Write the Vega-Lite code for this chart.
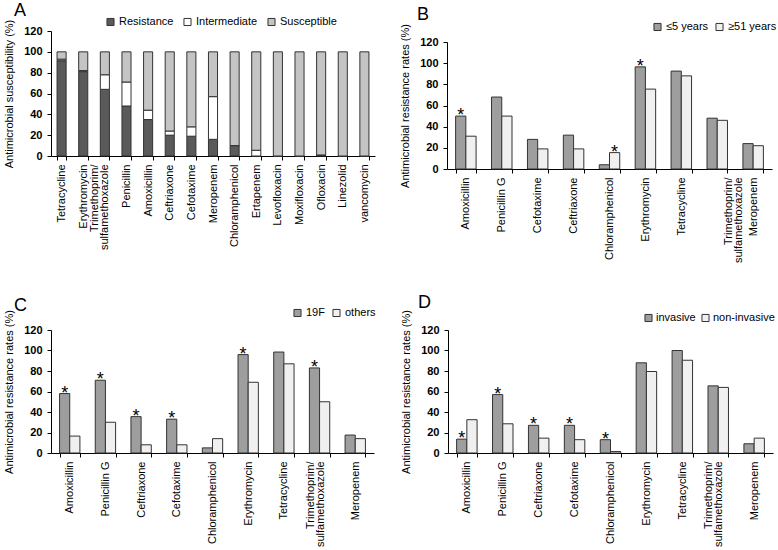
{
  "$schema": "https://vega.github.io/schema/vega-lite/v6.json",
  "padding": {"left": 3, "top": 2, "right": 0, "bottom": 0},
  "background": "#ffffff",
  "spacing": 30,
  "resolve": {"scale": {"color": "independent", "xOffset": "independent", "x": "independent", "y": "independent"}, "legend": {"color": "independent"}},
  "config": {
    "font": "Liberation Sans",
    "view": {"stroke": null},
    "axis": {"labelFont": "Liberation Sans", "labelFontSize": 11, "labelColor": "#000000", "domainColor": "#000000", "tickColor": "#000000", "titleColor": "#000000", "titleFont": "Liberation Sans", "titleFontSize": 11, "titleFontWeight": "normal", "grid": false, "tickSize": 4},
    "axisY": {"labelFontWeight": "bold"},
    "legend": {"labelFont": "Liberation Sans", "labelFontSize": 11, "labelColor": "#000000", "symbolType": "square", "symbolSize": 50, "symbolStrokeColor": "#333333", "symbolStrokeWidth": 1, "direction": "horizontal", "orient": "none", "columnPadding": 5, "labelOffset": 3},
    "title": {"font": "Liberation Sans", "fontSize": 18, "fontWeight": "normal", "color": "#000000", "anchor": "start", "frame": "group"}
  },
  "vconcat": [
    {
      "spacing": 24,
      "resolve": {"scale": {"color": "independent", "xOffset": "independent", "x": "independent", "y": "independent"}, "legend": {"color": "independent"}},
      "hconcat": [
        {
          "title": {"text": "A", "dx": -37, "offset": -4},
          "width": 324,
          "height": 125,
          "data": {"values": [
            {"drug": "Tetracycline", "cat": "Resistance", "o": 1, "v": 91.5},
            {"drug": "Tetracycline", "cat": "Intermediate", "o": 2, "v": 1.5},
            {"drug": "Tetracycline", "cat": "Susceptible", "o": 3, "v": 7},
            {"drug": "Erythromycin", "cat": "Resistance", "o": 1, "v": 81},
            {"drug": "Erythromycin", "cat": "Intermediate", "o": 2, "v": 1},
            {"drug": "Erythromycin", "cat": "Susceptible", "o": 3, "v": 18},
            {"drug": "Trimethoprim/sulfamethoxazole", "cat": "Resistance", "o": 1, "v": 64},
            {"drug": "Trimethoprim/sulfamethoxazole", "cat": "Intermediate", "o": 2, "v": 14},
            {"drug": "Trimethoprim/sulfamethoxazole", "cat": "Susceptible", "o": 3, "v": 22},
            {"drug": "Penicillin", "cat": "Resistance", "o": 1, "v": 48},
            {"drug": "Penicillin", "cat": "Intermediate", "o": 2, "v": 23},
            {"drug": "Penicillin", "cat": "Susceptible", "o": 3, "v": 29},
            {"drug": "Amoxicillin", "cat": "Resistance", "o": 1, "v": 35},
            {"drug": "Amoxicillin", "cat": "Intermediate", "o": 2, "v": 9},
            {"drug": "Amoxicillin", "cat": "Susceptible", "o": 3, "v": 56},
            {"drug": "Ceftriaxone", "cat": "Resistance", "o": 1, "v": 20},
            {"drug": "Ceftriaxone", "cat": "Intermediate", "o": 2, "v": 4},
            {"drug": "Ceftriaxone", "cat": "Susceptible", "o": 3, "v": 76},
            {"drug": "Cefotaxime", "cat": "Resistance", "o": 1, "v": 19},
            {"drug": "Cefotaxime", "cat": "Intermediate", "o": 2, "v": 9},
            {"drug": "Cefotaxime", "cat": "Susceptible", "o": 3, "v": 72},
            {"drug": "Meropenem", "cat": "Resistance", "o": 1, "v": 16},
            {"drug": "Meropenem", "cat": "Intermediate", "o": 2, "v": 41},
            {"drug": "Meropenem", "cat": "Susceptible", "o": 3, "v": 43},
            {"drug": "Chloramphenicol", "cat": "Resistance", "o": 1, "v": 10},
            {"drug": "Chloramphenicol", "cat": "Intermediate", "o": 2, "v": 0},
            {"drug": "Chloramphenicol", "cat": "Susceptible", "o": 3, "v": 90},
            {"drug": "Ertapenem", "cat": "Resistance", "o": 1, "v": 0},
            {"drug": "Ertapenem", "cat": "Intermediate", "o": 2, "v": 5.5},
            {"drug": "Ertapenem", "cat": "Susceptible", "o": 3, "v": 94.5},
            {"drug": "Levofloxacin", "cat": "Resistance", "o": 1, "v": 0},
            {"drug": "Levofloxacin", "cat": "Intermediate", "o": 2, "v": 0},
            {"drug": "Levofloxacin", "cat": "Susceptible", "o": 3, "v": 100},
            {"drug": "Moxifloxacin", "cat": "Resistance", "o": 1, "v": 0},
            {"drug": "Moxifloxacin", "cat": "Intermediate", "o": 2, "v": 0},
            {"drug": "Moxifloxacin", "cat": "Susceptible", "o": 3, "v": 100},
            {"drug": "Ofloxacin", "cat": "Resistance", "o": 1, "v": 1},
            {"drug": "Ofloxacin", "cat": "Intermediate", "o": 2, "v": 0},
            {"drug": "Ofloxacin", "cat": "Susceptible", "o": 3, "v": 99},
            {"drug": "Linezolid", "cat": "Resistance", "o": 1, "v": 0},
            {"drug": "Linezolid", "cat": "Intermediate", "o": 2, "v": 0},
            {"drug": "Linezolid", "cat": "Susceptible", "o": 3, "v": 100},
            {"drug": "vancomycin", "cat": "Resistance", "o": 1, "v": 0},
            {"drug": "vancomycin", "cat": "Intermediate", "o": 2, "v": 0},
            {"drug": "vancomycin", "cat": "Susceptible", "o": 3, "v": 100}
          ]},
          "mark": {"type": "bar", "stroke": "#333333", "strokeWidth": 1},
          "encoding": {
            "x": {"field": "drug", "type": "nominal", "sort": null, "scale": {"paddingInner": 0.58, "paddingOuter": 0.28},
                  "axis": {"title": null, "labelAngle": -90, "tickBand": "extent", "labelPadding": 4, "labelLineHeight": 10,
                           "labelOffset": {"condition": {"test": "datum.value == 'Trimethoprim/sulfamethoxazole'", "value": -10}, "value": 0},
                           "labelExpr": "datum.value == 'Trimethoprim/sulfamethoxazole' ? ['Trimethoprim/', 'sulfamethoxazole'] : datum.value"}},
            "y": {"field": "v", "type": "quantitative", "stack": "zero", "scale": {"domain": [0, 120]},
                  "axis": {"title": "Antimicrobial susceptibility (%)", "values": [0, 20, 40, 60, 80, 100, 120], "labelPadding": 5, "titlePadding": 9}},
            "color": {"field": "cat", "type": "nominal", "sort": null,
                      "scale": {"domain": ["Resistance", "Intermediate", "Susceptible"], "range": ["#5a5a5a", "#ffffff", "#c4c4c4"]},
                      "legend": {"title": null, "legendX": 54, "legendY": -15, "columnPadding": 7}},
            "order": {"field": "o", "type": "quantitative", "sort": "ascending"}
          }
        },
        {
          "title": {"text": "B", "dx": -30, "offset": -3},
          "width": 325,
          "height": 138,
          "data": {"values": [
            {"drug": "Amoxicillin", "g": "≤5 years", "v": 50, "s": "*"},
            {"drug": "Amoxicillin", "g": "≥51 years", "v": 31, "s": ""},
            {"drug": "Penicillin G", "g": "≤5 years", "v": 68, "s": ""},
            {"drug": "Penicillin G", "g": "≥51 years", "v": 50, "s": ""},
            {"drug": "Cefotaxime", "g": "≤5 years", "v": 28, "s": ""},
            {"drug": "Cefotaxime", "g": "≥51 years", "v": 19, "s": ""},
            {"drug": "Ceftriaxone", "g": "≤5 years", "v": 32, "s": ""},
            {"drug": "Ceftriaxone", "g": "≥51 years", "v": 19, "s": ""},
            {"drug": "Chloramphenicol", "g": "≤5 years", "v": 4, "s": ""},
            {"drug": "Chloramphenicol", "g": "≥51 years", "v": 15.5, "s": "*"},
            {"drug": "Erythromycin", "g": "≤5 years", "v": 96.5, "s": "*"},
            {"drug": "Erythromycin", "g": "≥51 years", "v": 75.5, "s": ""},
            {"drug": "Tetracycline", "g": "≤5 years", "v": 92.5, "s": ""},
            {"drug": "Tetracycline", "g": "≥51 years", "v": 88, "s": ""},
            {"drug": "Trimethoprim/sulfamethoxazole", "g": "≤5 years", "v": 48, "s": ""},
            {"drug": "Trimethoprim/sulfamethoxazole", "g": "≥51 years", "v": 46, "s": ""},
            {"drug": "Meropenem", "g": "≤5 years", "v": 24, "s": ""},
            {"drug": "Meropenem", "g": "≥51 years", "v": 22, "s": ""}
          ]},
          "encoding": {
            "x": {"field": "drug", "type": "nominal", "sort": null, "scale": {"paddingInner": 0.43, "paddingOuter": 0.24},
                  "axis": {"title": null, "labelAngle": -90, "tickBand": "extent", "labelPadding": 4, "labelLineHeight": 10,
                           "labelOffset": {"condition": {"test": "datum.value == 'Trimethoprim/sulfamethoxazole'", "value": 11}, "value": 0},
                           "labelExpr": "datum.value == 'Trimethoprim/sulfamethoxazole' ? ['Trimethoprim/', 'sulfamethoxazole'] : datum.value"}},
            "xOffset": {"field": "g", "type": "nominal", "sort": null},
            "y": {"field": "v", "type": "quantitative", "scale": {"domain": [0, 120], "range": [138, 11]},
                  "axis": {"title": "Antimicrobial  resistance  rates (%)", "values": [0, 20, 40, 60, 80, 100, 120], "labelPadding": 5, "titlePadding": 9}}
          },
          "layer": [
            {"mark": {"type": "bar", "stroke": "#333333", "strokeWidth": 1},
             "encoding": {"color": {"field": "g", "type": "nominal", "sort": null, "scale": {"domain": ["≤5 years", "≥51 years"], "range": ["#9e9e9e", "#f0f0f0"]},
                                    "legend": {"title": null, "legendX": 205, "legendY": -10, "columnPadding": 4}}}},
            {"mark": {"type": "text", "fontSize": 18, "baseline": "alphabetic", "dy": 5, "color": "#000000"},
             "encoding": {"text": {"field": "s"}}}
          ]
        }
      ]
    },
    {
      "spacing": 24,
      "resolve": {"scale": {"color": "independent", "xOffset": "independent", "x": "independent", "y": "independent"}, "legend": {"color": "independent"}},
      "hconcat": [
        {
          "title": {"text": "C", "dx": -37, "offset": -8},
          "width": 323,
          "height": 123,
          "data": {"values": [
            {"drug": "Amoxicillin", "g": "19F", "v": 58, "s": "*"},
            {"drug": "Amoxicillin", "g": "others", "v": 16.5, "s": ""},
            {"drug": "Penicillin G", "g": "19F", "v": 71, "s": "*"},
            {"drug": "Penicillin G", "g": "others", "v": 30, "s": ""},
            {"drug": "Ceftriaxone", "g": "19F", "v": 35.5, "s": "*"},
            {"drug": "Ceftriaxone", "g": "others", "v": 8, "s": ""},
            {"drug": "Cefotaxime", "g": "19F", "v": 33, "s": "*"},
            {"drug": "Cefotaxime", "g": "others", "v": 8, "s": ""},
            {"drug": "Chloramphenicol", "g": "19F", "v": 5, "s": ""},
            {"drug": "Chloramphenicol", "g": "others", "v": 14, "s": ""},
            {"drug": "Erythromycin", "g": "19F", "v": 96, "s": "*"},
            {"drug": "Erythromycin", "g": "others", "v": 69, "s": ""},
            {"drug": "Tetracycline", "g": "19F", "v": 98.5, "s": ""},
            {"drug": "Tetracycline", "g": "others", "v": 87, "s": ""},
            {"drug": "Trimethoprim/sulfamethoxazole", "g": "19F", "v": 83, "s": "*"},
            {"drug": "Trimethoprim/sulfamethoxazole", "g": "others", "v": 50, "s": ""},
            {"drug": "Meropenem", "g": "19F", "v": 17.5, "s": ""},
            {"drug": "Meropenem", "g": "others", "v": 14, "s": ""}
          ]},
          "encoding": {
            "x": {"field": "drug", "type": "nominal", "sort": null, "scale": {"paddingInner": 0.43, "paddingOuter": 0.24},
                  "axis": {"title": null, "labelAngle": -90, "tickBand": "extent", "labelPadding": 4, "labelLineHeight": 10,
                           "labelOffset": {"condition": {"test": "datum.value == 'Trimethoprim/sulfamethoxazole'", "value": -9}, "value": 0},
                           "labelExpr": "datum.value == 'Trimethoprim/sulfamethoxazole' ? ['Trimethoprim/', 'sulfamethoxazole'] : datum.value"}},
            "xOffset": {"field": "g", "type": "nominal", "sort": null},
            "y": {"field": "v", "type": "quantitative", "scale": {"domain": [0, 120]},
                  "axis": {"title": "Antimicrobial  resistance  rates (%)", "values": [0, 20, 40, 60, 80, 100, 120], "labelPadding": 5, "titlePadding": 9}}
          },
          "layer": [
            {"mark": {"type": "bar", "stroke": "#333333", "strokeWidth": 1},
             "encoding": {"color": {"field": "g", "type": "nominal", "sort": null, "scale": {"domain": ["19F", "others"], "range": ["#9e9e9e", "#f0f0f0"]},
                                    "legend": {"title": null, "legendX": 241, "legendY": -23, "columnPadding": 5}}}},
            {"mark": {"type": "text", "fontSize": 18, "baseline": "alphabetic", "dy": 5, "color": "#000000"},
             "encoding": {"text": {"field": "s"}}}
          ]
        },
        {
          "title": {"text": "D", "dx": -30, "offset": -5},
          "width": 325,
          "height": 123,
          "data": {"values": [
            {"drug": "Amoxicillin", "g": "invasive", "v": 13.5, "s": "*"},
            {"drug": "Amoxicillin", "g": "non-invasive", "v": 32.5, "s": ""},
            {"drug": "Penicillin G", "g": "invasive", "v": 57, "s": "*"},
            {"drug": "Penicillin G", "g": "non-invasive", "v": 28.5, "s": ""},
            {"drug": "Ceftriaxone", "g": "invasive", "v": 27, "s": "*"},
            {"drug": "Ceftriaxone", "g": "non-invasive", "v": 14.5, "s": ""},
            {"drug": "Cefotaxime", "g": "invasive", "v": 27, "s": "*"},
            {"drug": "Cefotaxime", "g": "non-invasive", "v": 13, "s": ""},
            {"drug": "Chloramphenicol", "g": "invasive", "v": 13, "s": "*"},
            {"drug": "Chloramphenicol", "g": "non-invasive", "v": 1.5, "s": ""},
            {"drug": "Erythromycin", "g": "invasive", "v": 88, "s": ""},
            {"drug": "Erythromycin", "g": "non-invasive", "v": 79.5, "s": ""},
            {"drug": "Tetracycline", "g": "invasive", "v": 100, "s": ""},
            {"drug": "Tetracycline", "g": "non-invasive", "v": 90.5, "s": ""},
            {"drug": "Trimethoprim/sulfamethoxazole", "g": "invasive", "v": 65.5, "s": ""},
            {"drug": "Trimethoprim/sulfamethoxazole", "g": "non-invasive", "v": 64, "s": ""},
            {"drug": "Meropenem", "g": "invasive", "v": 9, "s": ""},
            {"drug": "Meropenem", "g": "non-invasive", "v": 14.5, "s": ""}
          ]},
          "encoding": {
            "x": {"field": "drug", "type": "nominal", "sort": null, "scale": {"paddingInner": 0.43, "paddingOuter": 0.24},
                  "axis": {"title": null, "labelAngle": -90, "tickBand": "extent", "labelPadding": 4, "labelLineHeight": 10,
                           "labelOffset": {"condition": {"test": "datum.value == 'Trimethoprim/sulfamethoxazole'", "value": -10}, "value": 0},
                           "labelExpr": "datum.value == 'Trimethoprim/sulfamethoxazole' ? ['Trimethoprim/', 'sulfamethoxazole'] : datum.value"}},
            "xOffset": {"field": "g", "type": "nominal", "sort": null},
            "y": {"field": "v", "type": "quantitative", "scale": {"domain": [0, 120]},
                  "axis": {"title": "Antimicrobial  resistance  rates (%)", "values": [0, 20, 40, 60, 80, 100, 120], "labelPadding": 5, "titlePadding": 9}}
          },
          "layer": [
            {"mark": {"type": "bar", "stroke": "#333333", "strokeWidth": 1},
             "encoding": {"color": {"field": "g", "type": "nominal", "sort": null, "scale": {"domain": ["invasive", "non-invasive"], "range": ["#9e9e9e", "#f0f0f0"]},
                                    "legend": {"title": null, "legendX": 195, "legendY": -18, "columnPadding": 3, "labelOffset": 2}}}},
            {"mark": {"type": "text", "fontSize": 18, "baseline": "alphabetic", "dy": 5, "color": "#000000"},
             "encoding": {"text": {"field": "s"}}}
          ]
        }
      ]
    }
  ]
}
